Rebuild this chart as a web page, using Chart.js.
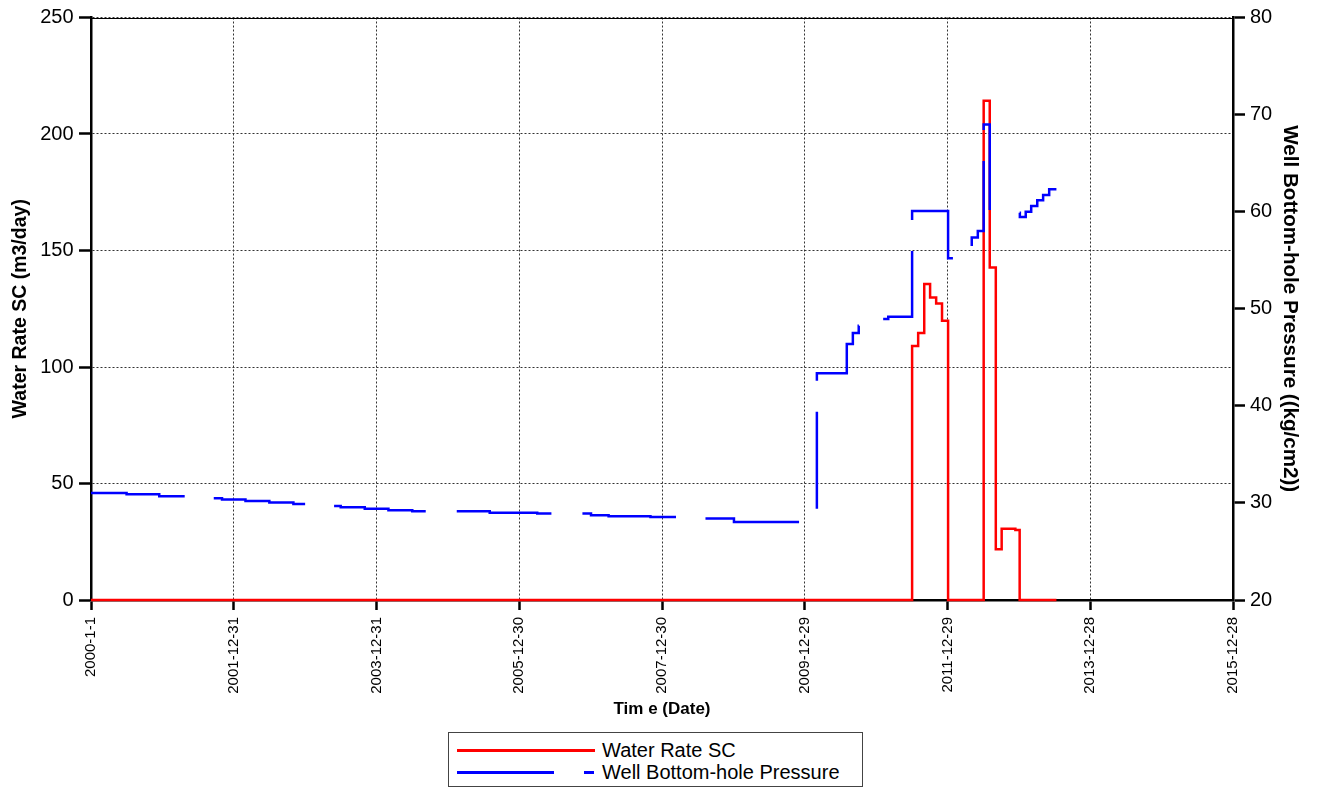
<!DOCTYPE html>
<html>
<head>
<meta charset="utf-8">
<script src="https://cdn.jsdelivr.net/npm/chart.js@4.4.1/dist/chart.umd.min.js"></script>
<style>
html,body{margin:0;padding:0;background:#fff;}
#wrap{position:relative;width:1317px;height:788px;overflow:hidden;background:#fff;}
#c{position:absolute;left:0;top:0;}
#legend{position:absolute;left:448px;top:732px;width:413px;height:53px;border:1px solid #444;background:#fff;font-family:"Liberation Sans",Arial,sans-serif;font-size:20px;line-height:24px;color:#000;}
#legend .ln{position:absolute;height:0;}
#legend .t{position:absolute;left:153px;white-space:nowrap;}
</style>
</head>
<body>
<div id="wrap">
<canvas id="c" width="1317" height="788"></canvas>
<div id="legend">
  <div class="ln" style="left:8px;top:15.5px;width:138px;border-top:3px solid #ff0000;"></div>
  <div class="t" style="top:4.5px;">Water Rate SC</div>
  <div class="ln" style="left:8px;top:37.5px;width:97px;border-top:3px solid #0000ff;"></div>
  <div class="ln" style="left:135px;top:37.5px;width:10px;border-top:3px solid #0000ff;"></div>
  <div class="t" style="top:26.5px;">Well Bottom-hole Pressure</div>
</div>
</div>
<script>
// ---- data ----
const xTickLabels = ['2000-1-1','2001-12-31','2003-12-31','2005-12-30','2007-12-30','2009-12-29','2011-12-29','2013-12-28','2015-12-28'];
const leftTitle = 'Water Rate SC (m3/day)';
const rightTitle = 'Well Bottom-hole Pressure ((kg/cm2))';
const xTitle = 'Tim e (Date)';

// Water Rate SC (m3/day): value starts at the given date
const rateDates  = ['2000-01-01','2011-07-01','2011-08-01','2011-09-01','2011-10-01','2011-11-01','2011-12-01','2012-01-01','2012-07-01','2012-08-01','2012-09-01','2012-10-01','2012-12-10','2013-01-01','2013-07-08'];
const rateValues = [0, 109.0, 114.6, 135.6, 129.8, 127.2, 119.8, 0, 214.3, 142.7, 21.8, 30.6, 30.0, 0, 0];

// Well Bottom-hole Pressure (kg/cm2): value starts at the given date, null = no data
const bhpDates  = ['2000-01-01','2000-07-01','2000-12-15','2001-07-01','2001-11-01','2002-03-01','2002-07-01','2002-11-01','2003-03-01','2003-07-01','2003-11-01','2004-03-01','2004-07-01','2005-08-01','2006-04-01','2007-01-01','2007-04-01','2007-11-01','2008-06-01','2009-01-01','2010-03-01','2010-08-01','2010-09-01','2010-10-01','2010-11-01','2011-03-01','2011-07-01','2012-01-01','2012-05-01','2012-06-01','2012-07-01','2012-08-01','2012-10-01','2013-01-01','2013-01-02','2013-02-01','2013-03-01','2013-04-01','2013-05-01','2013-06-01','2013-07-08'];
const bhpValues = [31.02, 30.88, 30.68, 30.48, 30.35, 30.20, 30.05, 29.90, 29.69, 29.55, 29.40, 29.25, 29.14, 29.00, 28.90, 28.73, 28.63, 28.55, 28.39, 28.04, 43.35, 46.37, 47.50, 48.25, 48.94, 49.18, 60.07, 55.21, 57.33, 58.02, 68.98, 60.00, null, 59.90, 59.45, 60.00, 60.58, 61.17, 61.71, 62.30, 62.30];

// ---- build chart ----
const FONT = '"Liberation Sans", Arial, sans-serif';
function dayNum(s){
  const p = s.split('-').map(Number);
  return (Date.UTC(p[0], p[1]-1, p[2]) - Date.UTC(2000,0,1)) / 86400000;
}
const xMax = dayNum('2015-12-28');
const xStep = dayNum('2001-12-31');

const rateData = rateDates.map((d,i)=>({x:dayNum(d), y:rateValues[i]}));
const bhpData  = bhpDates.map((d,i)=>({x:dayNum(d), y:bhpValues[i]}));

const frameTop = {
  id:'frameTop',
  beforeDatasetsDraw(chart){
    const {ctx, chartArea:a} = chart;
    ctx.save();
    ctx.strokeStyle = '#000';
    ctx.lineWidth = 1;
    ctx.beginPath();
    ctx.moveTo(a.left, Math.round(a.top)+0.5);
    ctx.lineTo(a.right, Math.round(a.top)+0.5);
    ctx.stroke();
    ctx.restore();
  }
};

new Chart(document.getElementById('c'), {
  type:'line',
  data:{
    datasets:[
      {label:'Water Rate SC', data:rateData, yAxisID:'y', borderColor:'#ff0000', backgroundColor:'#ff0000',
       borderWidth:2.5, stepped:true, pointRadius:0, fill:false, clip:5, order:1},
      {label:'Well Bottom-hole Pressure', data:bhpData, yAxisID:'y2', borderColor:'#0000ff', backgroundColor:'#0000ff',
       borderWidth:2.5, borderDash:[97,31], stepped:true, pointRadius:0, fill:false, spanGaps:false, clip:5, order:0}
    ]
  },
  options:{
    responsive:false,
    animation:false,
    devicePixelRatio:1,
    layout:{padding:{top:16,left:0,right:0,bottom:58}},
    plugins:{legend:{display:false}, tooltip:{enabled:false}},
    scales:{
      x:{
        type:'linear', position:'bottom', min:0, max:xMax,
        ticks:{stepSize:xStep, autoSkip:false, maxRotation:90, minRotation:90, padding:7, color:'#000',
               font:{family:FONT, size:15},
               callback:(v)=>xTickLabels[Math.round(v/xStep)] || ''},
        grid:{color:'#333', lineWidth:1, tickColor:'#000', tickWidth:2.5, tickLength:10},
        border:{color:'#000', width:2.5, dash:[2,2]},
        title:{display:true, text:xTitle, color:'#000', font:{family:FONT, size:17, weight:'bold'}, padding:{top:0,bottom:10}},
        afterFit(s){ s.height = 130; }
      },
      y:{
        type:'linear', position:'left', min:0, max:250,
        ticks:{stepSize:50, padding:5.5, color:'#000', font:{family:FONT, size:20}},
        grid:{color:'#333', lineWidth:1, tickColor:'#000', tickWidth:2.5, tickLength:12},
        border:{color:'#000', width:2.5, dash:[2,2]},
        title:{display:true, text:leftTitle, color:'#000', font:{family:FONT, size:19.5, weight:'bold'}, padding:{top:9,bottom:0}},
        afterFit(s){ s.width = 91; }
      },
      y2:{
        type:'linear', position:'right', min:20, max:80,
        ticks:{stepSize:10, padding:5, color:'#000', font:{family:FONT, size:20}},
        grid:{drawOnChartArea:false, color:'#333', lineWidth:1, tickColor:'#000', tickWidth:2.5, tickLength:12},
        border:{color:'#000', width:2.5},
        title:{display:true, text:rightTitle, color:'#000', font:{family:FONT, size:20.6, weight:'bold'}, padding:{top:15,bottom:0}},
        afterFit(s){ s.width = 84; }
      }
    }
  },
  plugins:[frameTop]
});
</script>
</body>
</html>
